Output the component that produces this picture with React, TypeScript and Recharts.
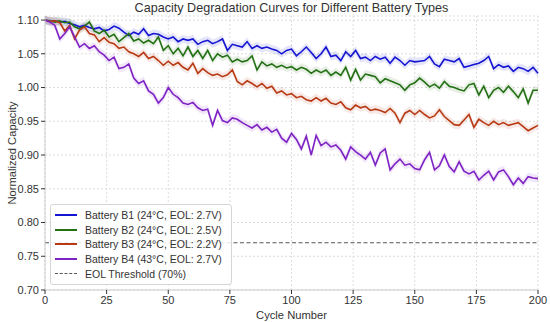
import { ComposedChart, Line, Area, XAxis, YAxis, CartesianGrid, ReferenceLine } from 'recharts';

// cycle numbers, sampled every 2 cycles
const cycles = Array.from({ length: 101 }, (_, i) => i * 2);

const b1 = [
  1.100, 1.098, 1.099, 1.097, 1.098, 1.095, 1.093, 1.090, 1.092, 1.089,
  1.087, 1.089, 1.084, 1.086, 1.091, 1.088, 1.082, 1.077, 1.082, 1.079,
  1.087, 1.077, 1.080, 1.079, 1.075, 1.072, 1.075, 1.068, 1.072, 1.070,
  1.072, 1.064, 1.068, 1.070, 1.065, 1.068, 1.072, 1.055, 1.064, 1.062,
  1.060, 1.068, 1.058, 1.062, 1.058, 1.060, 1.057, 1.055, 1.050, 1.055,
  1.057, 1.047, 1.053, 1.060, 1.052, 1.043, 1.050, 1.060, 1.046, 1.048,
  1.040, 1.053, 1.046, 1.055, 1.043, 1.045, 1.040, 1.046, 1.042, 1.045,
  1.036, 1.045, 1.040, 1.033, 1.040, 1.038, 1.039, 1.040, 1.046, 1.035,
  1.031, 1.042, 1.040, 1.038, 1.043, 1.030, 1.032, 1.034, 1.036, 1.040,
  1.046, 1.028, 1.034, 1.030, 1.032, 1.024, 1.030, 1.028, 1.024, 1.030,
  1.021,
];

const b2 = [
  1.100, 1.099, 1.097, 1.099, 1.096, 1.097, 1.090, 1.087, 1.091, 1.097,
  1.084, 1.080, 1.085, 1.075, 1.079, 1.068, 1.074, 1.080, 1.069, 1.072,
  1.066, 1.070, 1.065, 1.075, 1.055, 1.062, 1.050, 1.058, 1.047, 1.060,
  1.046, 1.055, 1.043, 1.055, 1.040, 1.050, 1.045, 1.048, 1.038, 1.042,
  1.038, 1.040, 1.047, 1.026, 1.038, 1.032, 1.035, 1.030, 1.033, 1.029,
  1.031, 1.026, 1.030, 1.027, 1.021, 1.026, 1.022, 1.026, 1.018, 1.023,
  1.018, 1.030, 1.011, 1.027, 1.011, 1.020, 1.018, 1.016, 1.007, 1.013,
  1.010, 1.007, 1.004, 0.996, 1.004, 1.007, 1.014, 1.008, 1.001, 1.005,
  0.999, 1.009, 1.002, 1.000, 0.997, 0.995, 1.004, 1.006, 0.989, 1.002,
  0.985, 0.996, 1.000, 0.993, 1.002, 0.994, 0.985, 0.998, 0.977, 0.996,
  0.996,
];

const b3 = [
  1.100, 1.098, 1.099, 1.096, 1.084, 1.092, 1.072, 1.085, 1.090, 1.080,
  1.078, 1.068, 1.074, 1.067, 1.065, 1.058, 1.060, 1.053, 1.050, 1.046,
  1.052, 1.043, 1.046, 1.040, 1.033, 1.039, 1.033, 1.037, 1.030, 1.026,
  1.036, 1.021, 1.028, 1.022, 1.018, 1.020, 1.016, 1.019, 1.026, 1.009,
  1.004, 1.010, 1.006, 1.001, 1.006, 0.999, 1.002, 0.992, 0.995, 0.989,
  0.991, 0.985, 0.987, 0.982, 0.980, 0.985, 0.980, 0.984, 0.977, 0.975,
  0.979, 0.970, 0.967, 0.974, 0.970, 0.972, 0.966, 0.968, 0.966, 0.963,
  0.969, 0.962, 0.948, 0.962, 0.966, 0.960, 0.966, 0.960, 0.955, 0.958,
  0.967, 0.957, 0.951, 0.945, 0.944, 0.952, 0.960, 0.941, 0.953, 0.948,
  0.944, 0.950, 0.945, 0.948, 0.944, 0.946, 0.948, 0.942, 0.936, 0.940,
  0.944,
];

const b4 = [
  1.100, 1.097, 1.092, 1.072, 1.080, 1.090, 1.075, 1.060, 1.065, 1.058,
  1.062, 1.053, 1.048, 1.040, 1.045, 1.028, 1.030, 1.035, 1.014, 1.006,
  1.010, 0.995, 0.990, 0.977, 0.985, 1.000, 0.990, 0.985, 0.977, 0.975,
  0.978, 0.970, 0.966, 0.968, 0.944, 0.966, 0.951, 0.948, 0.955, 0.953,
  0.948, 0.944, 0.940, 0.945, 0.937, 0.941, 0.934, 0.938, 0.925, 0.919,
  0.932, 0.923, 0.909, 0.928, 0.900, 0.929, 0.914, 0.919, 0.912, 0.915,
  0.907, 0.894, 0.912, 0.905, 0.900, 0.894, 0.904, 0.885, 0.903, 0.909,
  0.878, 0.887, 0.894, 0.885, 0.887, 0.880, 0.878, 0.893, 0.904, 0.878,
  0.884, 0.900, 0.883, 0.875, 0.890, 0.876, 0.872, 0.876, 0.863, 0.870,
  0.876, 0.863, 0.875, 0.878, 0.868, 0.856, 0.866, 0.858, 0.868, 0.866,
  0.865,
];

const eolThreshold = 0.77;
const xTicks = [0, 25, 50, 75, 100, 125, 150, 175, 200];
const yTicks = [0.7, 0.75, 0.8, 0.85, 0.9, 0.95, 1.0, 1.05, 1.1];

const series = [
  { key: 'b1', name: 'Battery B1 (24°C, EOL: 2.7V)', color: '#1414d2', values: b1 },
  { key: 'b2', name: 'Battery B2 (24°C, EOL: 2.5V)', color: '#237014', values: b2 },
  { key: 'b3', name: 'Battery B3 (24°C, EOL: 2.2V)', color: '#b83a14', values: b3 },
  { key: 'b4', name: 'Battery B4 (43°C, EOL: 2.7V)', color: '#7e22c4', values: b4 },
];

const BAND = 0.006;

const data = cycles.map((c, i) => {
  const row: any = { cycle: c };
  series.forEach((s) => {
    row[s.key] = s.values[i];
    row[s.key + 'Band'] = [s.values[i] - BAND, s.values[i] + BAND];
  });
  return row;
});

const font = '"Liberation Sans", Arial, sans-serif';
const tickStyle = { fontSize: 11, fill: '#333', fontFamily: font };

function LegendBox() {
  return (
    <div
      style={{
        position: 'absolute',
        left: 50,
        top: 204,
        width: 180,
        padding: '3px 0',
        background: 'rgba(255,255,255,0.85)',
        border: '1px solid #d6d6d6',
        borderRadius: 3,
        fontFamily: font,
        fontSize: 10.5,
        color: '#333',
      }}
    >
      {series.map((s) => (
        <div key={s.key} style={{ height: 14.6, display: 'flex', alignItems: 'center' }}>
          <div style={{ width: 22, height: 2, background: s.color, marginLeft: 4, marginRight: 8 }} />
          <span>{s.name}</span>
        </div>
      ))}
      <div style={{ height: 14.6, display: 'flex', alignItems: 'center' }}>
        <div style={{ width: 22, marginLeft: 4, marginRight: 8, borderTop: '1.2px dashed #555' }} />
        <span>EOL Threshold (70%)</span>
      </div>
    </div>
  );
}

export default function App() {
  return (
    <div style={{ position: 'absolute', left: 0, top: 0, width: 550, height: 322, background: '#fff' }}>
      <div
        style={{
          position: 'absolute',
          left: 45,
          width: 493,
          top: 1,
          textAlign: 'center',
          fontFamily: font,
          fontSize: 12.6,
          color: '#333',
        }}
      >
        Capacity Degradation Curves for Different Battery Types
      </div>
      <ComposedChart width={550} height={322} data={data} margin={{ top: 16, right: 12, bottom: 2, left: 0 }}>
        <CartesianGrid stroke="#dcdcdc" strokeDasharray="2 2" />
        <XAxis
          dataKey="cycle"
          type="number"
          domain={[0, 200]}
          ticks={xTicks}
          height={30}
          axisLine={{ stroke: '#ccc' }}
          tickLine={{ stroke: '#333' }}
          tickSize={4}
          tick={tickStyle}
          label={{ value: 'Cycle Number', position: 'insideBottom', offset: 1, style: { ...tickStyle, fontSize: 11.2 } }}
        />
        <XAxis xAxisId="top" orientation="top" type="number" domain={[0, 200]} height={0} tick={false} tickLine={false} axisLine={{ stroke: '#ccc' }} />
        <YAxis
          type="number"
          domain={[0.7, 1.1]}
          ticks={yTicks}
          width={45}
          axisLine={{ stroke: '#ccc' }}
          tickLine={{ stroke: '#333' }}
          tickSize={4}
          tick={tickStyle}
          tickFormatter={(v: number) => v.toFixed(2)}
          label={{
            value: 'Normalized Capacity',
            angle: -90,
            position: 'insideLeft',
            offset: 12,
            style: { ...tickStyle, fontSize: 11.2, textAnchor: 'middle' },
          }}
        />
        <YAxis yAxisId="right" orientation="right" width={0} tick={false} tickLine={false} axisLine={{ stroke: '#ccc' }} />
        {series.map((s) => (
          <Area
            key={s.key + 'Band'}
            dataKey={s.key + 'Band'}
            stroke="none"
            fill={s.color}
            fillOpacity={0.11}
            isAnimationActive={false}
            activeDot={false}
          />
        ))}
        {series.map((s) => (
          <Line
            key={s.key}
            dataKey={s.key}
            stroke={s.color}
            strokeWidth={1.6}
            dot={false}
            type="linear"
            isAnimationActive={false}
          />
        ))}
        <ReferenceLine y={eolThreshold} stroke="#555" strokeDasharray="4 2.5" strokeWidth={1.1} />
      </ComposedChart>
      <LegendBox />
    </div>
  );
}
